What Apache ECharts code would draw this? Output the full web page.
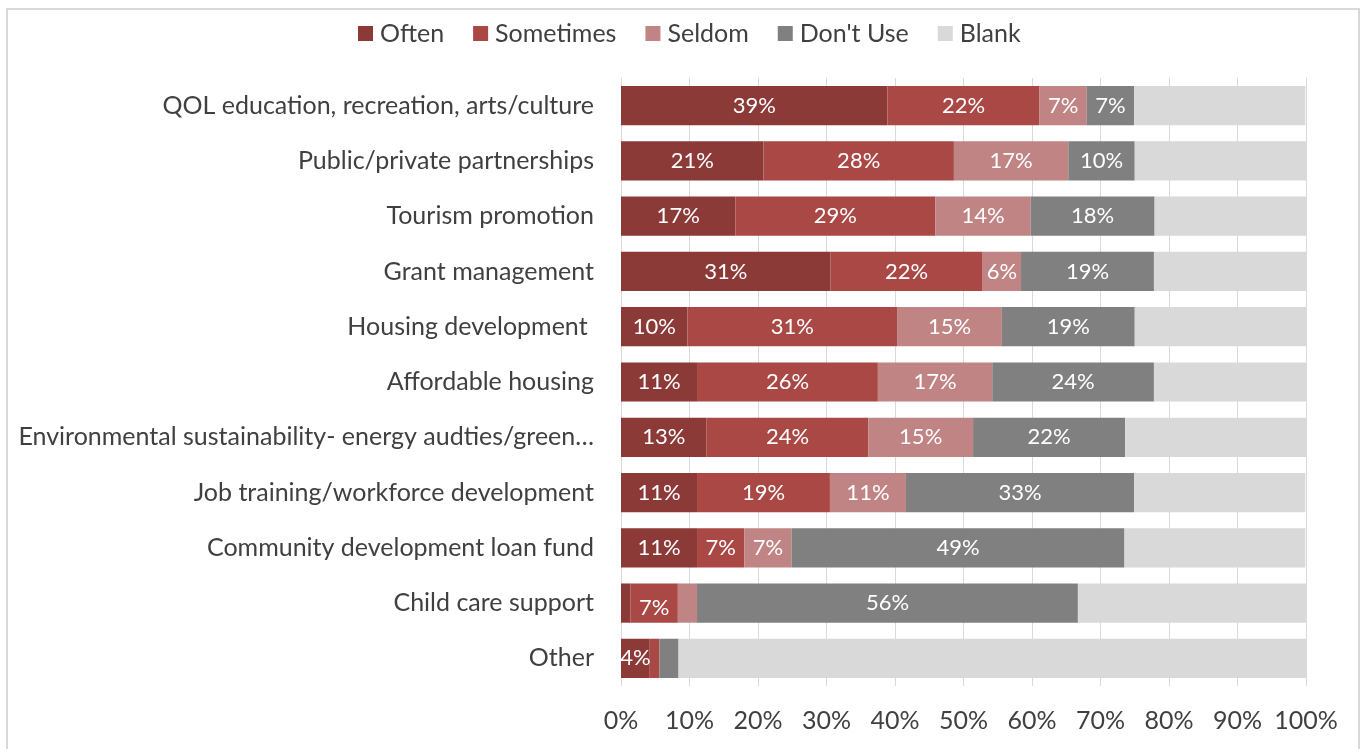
<!DOCTYPE html>
<html>
<head>
<meta charset="utf-8">
<style>
  html, body { margin: 0; padding: 0; background: #ffffff; }
  #chart { width: 1363px; height: 749px; }
</style>
<script src="https://cdn.jsdelivr.net/npm/echarts@6/dist/echarts.min.js"></script>
</head>
<body>
<div id="chart"></div>
<script>
// Share of respondents (%) by how often each program area is used
const categories = [
  'QOL education, recreation, arts/culture',
  'Public/private partnerships',
  'Tourism promotion',
  'Grant management',
  'Housing development ',
  'Affordable housing',
  'Environmental sustainability- energy audties/green\u2026',
  'Job training/workforce development',
  'Community development loan fund',
  'Child care support',
  'Other'
];
const often     = [38.9, 20.8, 16.7, 30.6,  9.7, 11.1, 12.5, 11.1, 11.1,  1.4,  4.2];
const sometimes = [22.2, 27.8, 29.2, 22.2, 30.6, 26.4, 23.6, 19.4,  6.9,  6.9,  1.4];
const seldom    = [ 6.9, 16.7, 13.9,  5.6, 15.3, 16.7, 15.3, 11.1,  6.9,  2.8,  0.0];
const dontUse   = [ 6.9,  9.7, 18.1, 19.4, 19.4, 23.6, 22.2, 33.3, 48.6, 55.6,  2.8];
const blank     = [25.0, 25.0, 22.2, 22.2, 25.0, 22.2, 26.4, 25.0, 26.4, 33.3, 91.7];
const xTicks = [0, 10, 20, 30, 40, 50, 60, 70, 80, 90, 100];

const seriesDefs = [
  { name: 'Often',     data: often,     color: '#8c3a38', label: true },
  { name: 'Sometimes', data: sometimes, color: '#a94845', label: true },
  { name: 'Seldom',    data: seldom,    color: '#c08485', label: true },
  { name: "Don't Use", data: dontUse,   color: '#808080', label: true },
  { name: 'Blank',     data: blank,     color: '#d9d9d9', label: false }
];

const FONT = 'Lato';
const TEXT = '#404040';

// the thin "Child care support" / Sometimes label sits a little lower
function buildData(def) {
  return def.data.map((v, i) => {
    if (def.name === 'Sometimes' && categories[i] === 'Child care support') {
      return { value: v, label: { offset: [0, 5] } };
    }
    return v;
  });
}

const chart = echarts.init(document.getElementById('chart'), null, { renderer: 'canvas' });

chart.setOption({
  animation: false,
  backgroundColor: '#ffffff',
  textStyle: { fontFamily: FONT },
  graphic: [{
    type: 'rect',
    shape: { x: 7, y: 9, width: 1352, height: 760 },
    style: { fill: 'none', stroke: '#d9d9d9', lineWidth: 2 },
    silent: true
  }],
  legend: {
    top: 16,
    left: 353,
    itemWidth: 15,
    itemHeight: 15,
    itemGap: 29,
    icon: 'rect',
    textStyle: { fontFamily: FONT, fontSize: 25, color: TEXT, padding: [0, 0, 0, 2] },
    data: seriesDefs.map(s => s.name)
  },
  grid: { left: 621, right: 57, top: 78, bottom: 63, containLabel: false },
  xAxis: {
    type: 'value',
    min: 0,
    max: 100,
    interval: 10,
    axisLine: { show: false },
    axisTick: { show: false },
    splitLine: { show: true, lineStyle: { color: '#d9d9d9', width: 1 } },
    axisLabel: {
      margin: 22,
      fontFamily: FONT,
      fontSize: 25,
      color: TEXT,
      formatter: v => (xTicks.indexOf(v) >= 0 ? v + '%' : '')
    }
  },
  yAxis: {
    type: 'category',
    inverse: true,
    data: categories,
    axisLine: { show: false },
    axisTick: { show: false },
    axisLabel: { margin: 27, fontFamily: FONT, fontSize: 25, color: TEXT }
  },
  series: seriesDefs.map(s => ({
    name: s.name,
    type: 'bar',
    stack: 'total',
    barCategoryGap: '29%',
    itemStyle: { color: s.color },
    label: {
      show: s.label,
      position: 'inside',
      color: '#ffffff',
      fontFamily: FONT,
      fontSize: 22,
      formatter: p => (p.value >= 4 ? Math.round(p.value) + '%' : '')
    },
    data: buildData(s)
  }))
});
</script>
</body>
</html>
